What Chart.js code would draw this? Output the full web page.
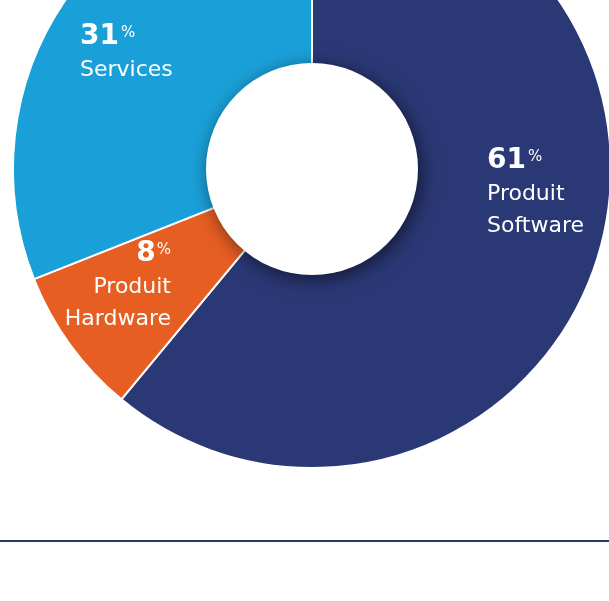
<!DOCTYPE html>
<html lang="fr">
<head>
    <meta charset="utf-8">
    <title>Répartition du chiffre d'affaires</title>
    <script src="https://cdn.jsdelivr.net/npm/chart.js@4.4.0/dist/chart.umd.min.js"></script>
    <style>
        html, body { margin: 0; padding: 0; background: #fff; overflow: hidden; }
        body { width: 609px; height: 601px; position: relative; }
        .donut { position: absolute; left: 2px; top: -141px; width: 620px; height: 620px; }
        .rule { position: absolute; left: 0; top: 540px; width: 609px; height: 2px; background: #2a3670; }
    </style>
</head>
<body>
    <div class="donut"><canvas id="chart" width="620" height="620"></canvas></div>
    <div class="rule"></div>

    <script>
    // données
    var categories = ["Produit Software", "Produit Hardware", "Services"];
    var shares = [61, 8, 31];
    var labelLines = [["Produit", "Software"], ["Produit", "Hardware"], ["Services"]];
    var colors = ["#2a3875", "#e65e22", "#1aa0d8"];

    // placement des étiquettes, relatif au centre du donut
    var labelPos = [
        { dx: 175, dy: -1, align: "left" },
        { dx: -141, dy: 92, align: "right" },
        { dx: -232, dy: -125, align: "left" }
    ];

    var font = "'DejaVu Sans', sans-serif";
    var holeRadius = 106;

    var holeAndLabels = {
        id: "holeAndLabels",
        afterDatasetsDraw: function(chart) {
            var ctx = chart.ctx;
            var arc = chart.getDatasetMeta(0).data[0];
            var cx = arc.x, cy = arc.y;

            // trou blanc avec ombre portée
            ctx.save();
            ctx.shadowColor = "rgba(0,0,0,0.55)";
            ctx.shadowBlur = 18;
            ctx.shadowOffsetX = 3;
            ctx.shadowOffsetY = 4;
            ctx.fillStyle = "#fff";
            ctx.beginPath();
            ctx.arc(cx, cy, holeRadius, 0, Math.PI * 2);
            ctx.fill();
            ctx.restore();

            // étiquettes
            ctx.save();
            ctx.fillStyle = "#fff";
            ctx.textBaseline = "alphabetic";
            for (var i = 0; i < shares.length; i++) {
                var p = labelPos[i];
                var x = cx + p.dx, y = cy + p.dy;
                var num = String(shares[i]);

                ctx.font = "bold 28px " + font;
                var numW = ctx.measureText(num).width;
                ctx.font = "15px " + font;
                var pctW = ctx.measureText("%").width;

                if (p.align === "left") {
                    ctx.textAlign = "left";
                    ctx.font = "bold 28px " + font;
                    ctx.fillText(num, x, y);
                    ctx.font = "15px " + font;
                    ctx.fillText("%", x + numW + 2, y - 7);
                } else {
                    ctx.textAlign = "right";
                    ctx.font = "15px " + font;
                    ctx.fillText("%", x, y - 7);
                    ctx.font = "bold 28px " + font;
                    ctx.fillText(num, x - pctW - 1, y);
                }

                ctx.font = "22px " + font;
                ctx.textAlign = p.align;
                for (var j = 0; j < labelLines[i].length; j++) {
                    ctx.fillText(labelLines[i][j], x, y + 32 + j * 32);
                }
            }
            ctx.restore();
        }
    };

    var donut = new Chart(document.getElementById("chart").getContext("2d"), {
        type: "doughnut",
        data: {
            labels: categories,
            datasets: [{
                data: shares,
                backgroundColor: colors,
                borderColor: "#fff",
                borderWidth: 2
            }]
        },
        options: {
            responsive: false,
            animation: false,
            radius: 299,
            cutout: 100,
            layout: { padding: 0 },
            plugins: {
                legend: { display: false },
                tooltip: { enabled: false }
            }
        },
        plugins: [holeAndLabels]
    });
    </script>
</body>
</html>
